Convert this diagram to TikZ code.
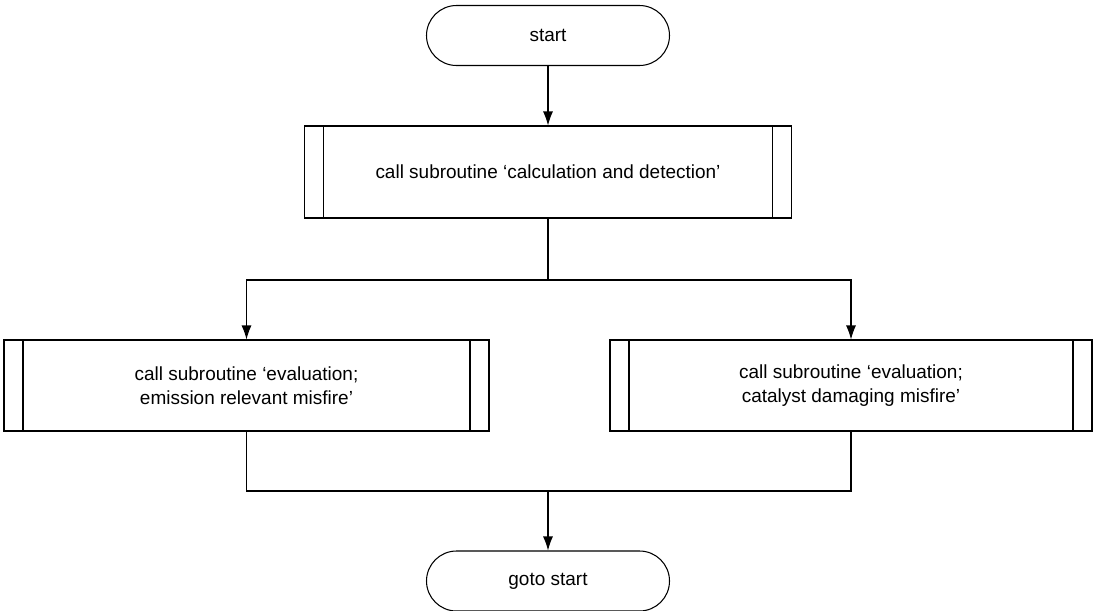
\documentclass[tikz,border=0pt]{standalone}
\usepackage{fontspec}
\setmainfont{Liberation Sans}
\usetikzlibrary{arrows.meta}

\tikzset{
  terminal/.style={draw, line width=0.6pt, rounded corners=0.6cm,
    minimum width=4.86cm, minimum height=1.2cm, font=\fontsize{10.8}{13}\selectfont},
  subroutine/.style={draw, line width=0.6pt, minimum height=1.84cm,
    align=center, font=\fontsize{10.8}{13.5}\selectfont,
    path picture={
      \draw[line width=0.6pt] ([xshift=0.38cm]path picture bounding box.north west)
        -- ([xshift=0.38cm]path picture bounding box.south west);
      \draw[line width=0.6pt] ([xshift=-0.38cm]path picture bounding box.north east)
        -- ([xshift=-0.38cm]path picture bounding box.south east);
    }},
  flow/.style={line width=0.6pt},
  arrow/.style={flow, -{Latex[length=2.8mm,width=2mm]}}
}

\begin{document}
\begin{tikzpicture}
  \useasboundingbox (0,0) rectangle (21.88,-12.2);

  % Debut et fin
  \node[terminal] (start) at (10.96,-0.71) {start};
  \node[terminal] (goto) at (10.96,-11.62) {goto start};

  % Sous-programmes
  \node[subroutine, minimum width=9.74cm] (calc) at (10.96,-3.44)
    {call subroutine ‘calculation and detection’};
  \node[subroutine, minimum width=9.7cm, minimum height=1.82cm] (emission) at (4.93,-7.71)
    {call subroutine ‘evaluation;\\ emission relevant misfire’};
  \node[subroutine, minimum width=9.64cm, minimum height=1.82cm] (catalyst) at (17.02,-7.71)
    {call subroutine ‘evaluation;\\ catalyst damaging misfire’};

  % Points de branchement
  \coordinate (split) at (10.96,-5.6);
  \coordinate (join) at (10.96,-9.82);

  % Liaisons
  \draw[arrow] (start) -- (calc);
  \draw[flow] (calc) -- (split);
  \draw[arrow] (split) -| (emission);
  \draw[arrow] (split) -| (catalyst);
  \draw[flow] (emission) |- (join);
  \draw[flow] (catalyst) |- (join);
  \draw[arrow] (join) -- (goto);
\end{tikzpicture}
\end{document}
